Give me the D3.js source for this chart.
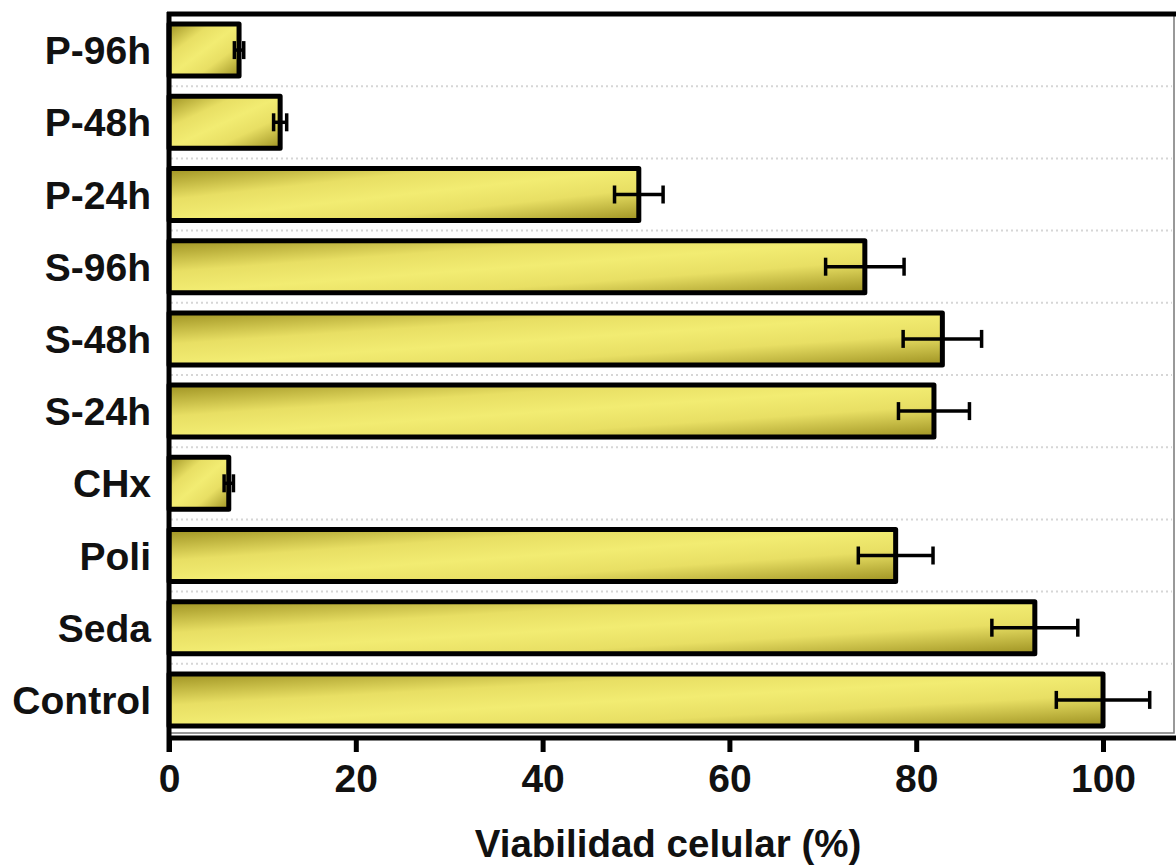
<!DOCTYPE html>
<html>
<head>
<meta charset="utf-8">
<script src="https://cdn.jsdelivr.net/npm/d3@7"></script>
<style>
  html, body { margin: 0; padding: 0; background: #fff; }
  svg { display: block; }
  text { font-family: "Liberation Sans", Arial, sans-serif; font-weight: bold; fill: #111; }
</style>
</head>
<body>
<svg id="chart" width="1176" height="866"></svg>
<script>
// Groups, top to bottom
const categories = ["P-96h", "P-48h", "P-24h", "S-96h", "S-48h", "S-24h", "CHx", "Poli", "Seda", "Control"];
// Mean cell viability (%)
const viability = [7.5, 11.9, 50.3, 74.5, 82.8, 81.9, 6.4, 77.8, 92.7, 100.0];
// Standard deviation (%)
const errors = [0.5, 0.7, 2.6, 4.2, 4.2, 3.8, 0.5, 4.0, 4.6, 5.0];
const xTicks = [0, 20, 40, 60, 80, 100];
const xTitle = "Viabilidad celular (%)";

const svg = d3.select("#chart");
const plotL = 169, plotR = 1174, plotT = 14, plotB = 736;

const x = d3.scaleLinear().domain([0, 107.6]).range([plotL, plotR]);
const y = d3.scaleBand().domain(categories).range([plotT, plotB])
  .paddingInner(0.28).paddingOuter(0.14);

// Diagonal olive-yellow gradient used by every bar
const defs = svg.append("defs");
const grad = defs.append("linearGradient").attr("id", "barFill")
  .attr("x1", 0).attr("y1", 0).attr("x2", 1).attr("y2", 1);
[[0, "#9e9222"], [0.3, "#e8df64"], [0.5, "#f2ec72"], [0.7, "#e8df64"], [1, "#9e9222"]]
  .forEach(([o, c]) => grad.append("stop").attr("offset", o).attr("stop-color", c));

// Thin frame around the plot area
svg.append("rect")
  .attr("x", plotL).attr("y", plotT)
  .attr("width", plotR - plotL).attr("height", 733 - plotT)
  .attr("fill", "none").attr("stroke", "#777").attr("stroke-width", 1.5);

// Dotted separators between groups
const seps = categories.slice(1).map(c => y(c) - y.step() * y.paddingInner() / 2);
svg.append("g").selectAll("line").data(seps).join("line")
  .attr("x1", plotL + 2).attr("x2", plotR - 2)
  .attr("y1", d => d).attr("y2", d => d)
  .attr("stroke", "#d6d6d6").attr("stroke-width", 2)
  .attr("stroke-dasharray", "2,3");

// Bars
svg.append("g").selectAll("rect").data(categories).join("rect")
  .attr("x", x(0))
  .attr("y", d => y(d))
  .attr("width", (d, i) => x(viability[i]) - x(0))
  .attr("height", y.bandwidth())
  .attr("fill", "url(#barFill)")
  .attr("stroke", "#000").attr("stroke-width", 5)
  .attr("stroke-linejoin", "round");

// Error bars with caps at both ends
const eg = svg.append("g").attr("stroke", "#000").attr("stroke-width", 3.5);
const capH = 18;
categories.forEach((c, i) => {
  const cy = y(c) + y.bandwidth() / 2;
  const lo = x(viability[i] - errors[i]), hi = x(viability[i] + errors[i]);
  eg.append("line").attr("x1", lo).attr("x2", hi).attr("y1", cy).attr("y2", cy);
  eg.append("line").attr("x1", lo).attr("x2", lo).attr("y1", cy - capH / 2).attr("y2", cy + capH / 2);
  eg.append("line").attr("x1", hi).attr("x2", hi).attr("y1", cy - capH / 2).attr("y2", cy + capH / 2);
});

// Heavy top border
svg.append("line").attr("x1", plotL - 2).attr("x2", plotR + 2)
  .attr("y1", plotT).attr("y2", plotT)
  .attr("stroke", "#000").attr("stroke-width", 5);

// X axis
const xAxis = d3.axisBottom(x).tickValues(xTicks).tickSize(14).tickPadding(12).tickFormat(d3.format("d"));
const gx = svg.append("g").attr("transform", `translate(0,${738})`).call(xAxis);
gx.select(".domain").remove();
gx.append("line").attr("x1", plotL - 2).attr("x2", 1176).attr("y1", 0).attr("y2", 0)
  .attr("stroke", "#000").attr("stroke-width", 5);
gx.selectAll(".tick line").attr("stroke", "#000").attr("stroke-width", 5);
gx.selectAll(".tick text").attr("font-size", 39).attr("fill", "#111")
  .attr("font-family", "Liberation Sans, Arial, sans-serif").attr("font-weight", "bold");

// Y axis line and labels
svg.append("line").attr("x1", plotL).attr("x2", plotL).attr("y1", plotT - 2).attr("y2", 752)
  .attr("stroke", "#000").attr("stroke-width", 5);
svg.append("g").selectAll("text").data(categories).join("text")
  .attr("x", 151)
  .attr("y", d => y(d) + y.bandwidth() / 2)
  .attr("dy", "0.36em")
  .attr("text-anchor", "end")
  .attr("font-size", 39)
  .text(d => d);

// Axis title
svg.append("text")
  .attr("x", (x(0) + x(100)) / 2 + 32)
  .attr("y", 857)
  .attr("text-anchor", "middle")
  .attr("font-size", 38.5)
  .text(xTitle);
</script>
</body>
</html>
